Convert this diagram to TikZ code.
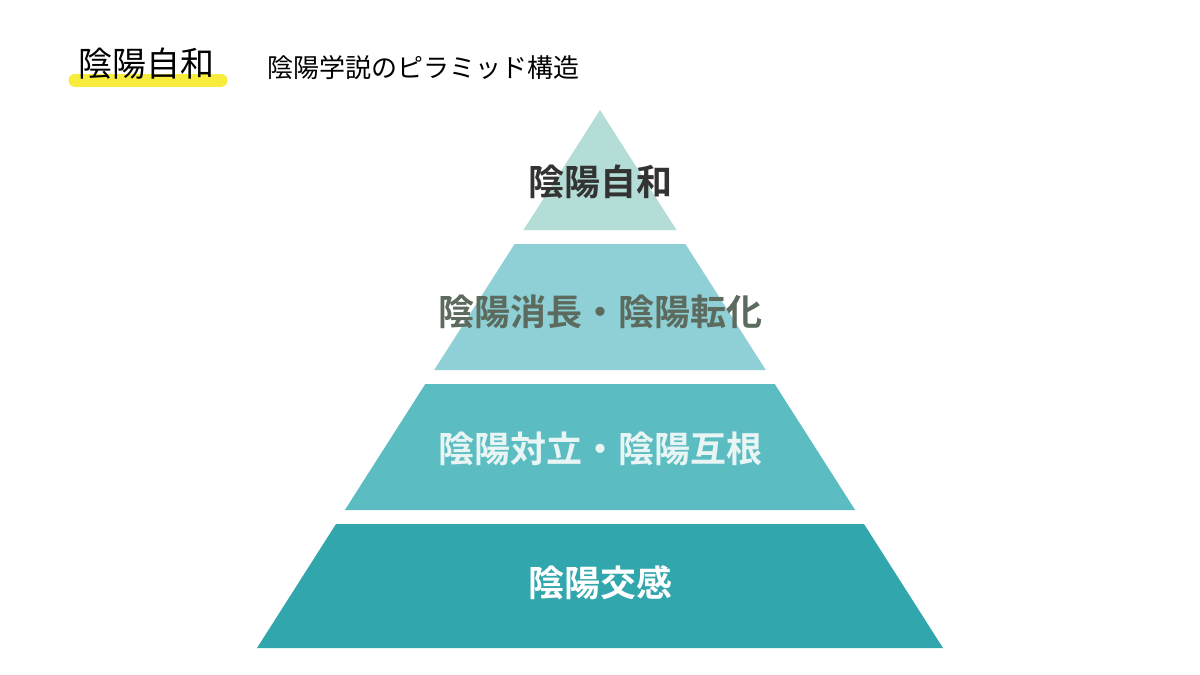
\documentclass[tikz,border=0pt]{standalone}
\usepackage{fontspec}
\setmainfont{Noto Sans CJK JP}
\newfontfamily\jpbold{Noto Sans CJK JP Bold}
\usetikzlibrary{positioning}
\definecolor{tierA}{HTML}{B3DDD6}
\definecolor{tierB}{HTML}{8ED0D6}
\definecolor{tierC}{HTML}{5BBDC1}
\definecolor{tierD}{HTML}{31A6AC}
\definecolor{hilite}{HTML}{F8EC3C}
\definecolor{labelB}{HTML}{5C6B5E}
\definecolor{labelC}{HTML}{E9F5F4}

\begin{document}
\begin{tikzpicture}[x=1pt, y=-1pt,
    tierlabel/.style={font=\jpbold\fontsize{36}{40}\selectfont, inner sep=0pt},
    heading/.style={font=\fontsize{34}{38}\selectfont, inner sep=0pt},
    subheading/.style={font=\fontsize{26}{30}\selectfont, inner sep=0pt, anchor=west}
    ]
    \useasboundingbox (0,0) rectangle (1200,675);

    % 見出し
    \draw [hilite, line width=13pt, line cap=round] (75,80) -- (221,80);
    \node (title) [heading] at (146,64) {陰陽自和};
    \node (subtitle) [subheading] at (267,68) {陰陽学説のピラミッド構造};

    % ピラミッド
    \fill [tierA] (600,110) -- (676.5,230) -- (523.5,230) -- cycle;
    \fill [tierB] (514.6,244) -- (685.4,244) -- (765.8,370) -- (434.2,370) -- cycle;
    \fill [tierC] (425.3,384) -- (774.7,384) -- (855.1,510) -- (344.9,510) -- cycle;
    \fill [tierD] (336.0,524) -- (864.0,524) -- (943.0,648) -- (257.0,648) -- cycle;

    % ラベル
    \node (top) [tierlabel, text=black!80] at (600,182) {陰陽自和};
    \node (second) [tierlabel, text=labelB] at (600,312) {陰陽消長・陰陽転化};
    \node (third) [tierlabel, text=labelC] at (600,449) {陰陽対立・陰陽互根};
    \node (base) [tierlabel, text=white] at (600,583) {陰陽交感};

\end{tikzpicture}
\end{document}
